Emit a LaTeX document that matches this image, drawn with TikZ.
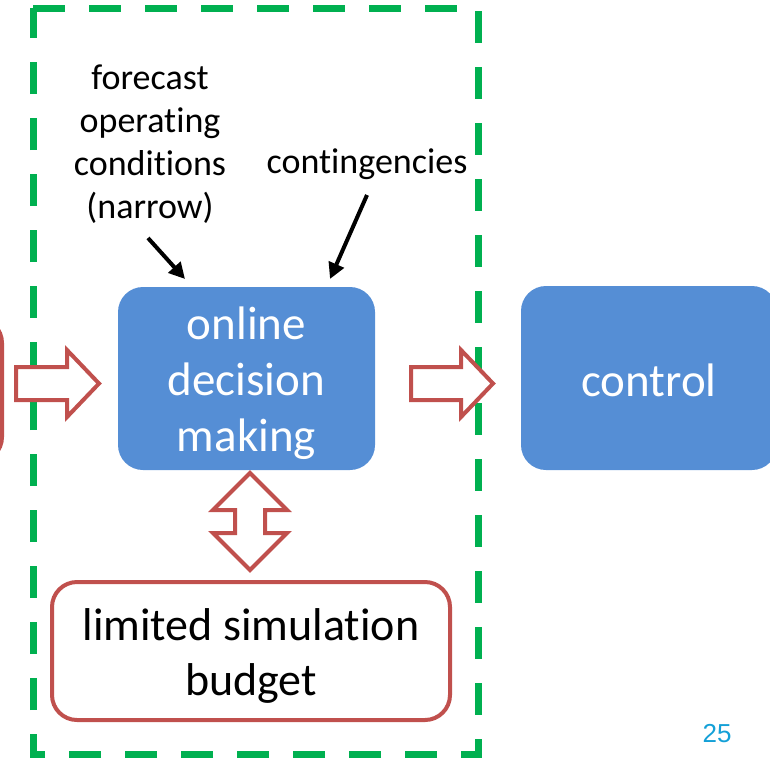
\documentclass[tikz,border=0pt]{standalone}
\usepackage{fontspec}
\setmainfont{Carlito}[Ligatures=NoCommon]
\newfontfamily\numfont{Liberation Sans}
\usetikzlibrary{arrows.meta}
\definecolor{boxblue}{RGB}{85,142,213}
\definecolor{flowred}{RGB}{192,80,77}
\definecolor{zonegreen}{RGB}{0,176,80}
\definecolor{pagecyan}{RGB}{20,160,215}
\tikzset{
  x=1pt, y=-1pt,
  bluebox/.style={fill=boxblue, rounded corners=25pt, inner sep=0pt},
  bluetext/.style={text=white, align=center, font=\fontsize{47}{56}\selectfont, inner sep=0pt},
  redbox/.style={draw=flowred, line width=4pt, rounded corners=25pt, fill=white, inner sep=0pt},
  redtext/.style={align=center, font=\fontsize{46}{55}\selectfont, inner sep=0pt},
  blockarrow/.style={draw=flowred, line width=4pt, fill=white, line join=miter},
  note/.style={align=center, font=\fontsize{36}{43}\selectfont, inner sep=0pt},
  pointer/.style={line width=4pt, -{Triangle[length=16pt,width=16pt]}},
  zone/.style={draw=zonegreen, line width=7pt, dash pattern=on 32pt off 24pt}
}
\begin{document}
\begin{tikzpicture}
\useasboundingbox (0,0) rectangle (770,758);
\clip (0,0) rectangle (770,758);

% decision-making zone
\draw[zone] (33,8) -- (478,8) -- (478,754) -- (33,754) -- cycle;

% boxes
\node[redbox, minimum width=220pt, minimum height=144pt] (source) at (-108,390) {};
\node[bluebox, minimum width=257pt, minimum height=183pt] (odm) at (246.5,378.5) {};
\node[bluetext] (odmtext) at ([yshift=-5pt]odm.center) {online\\decision\\making};
\node[bluebox, minimum width=256pt, minimum height=184pt] (ctrl) at (649,378) {};
\node[bluetext] (ctrltext) at ([yshift=-2pt]ctrl.center) {control};
\node[redbox, minimum width=398pt, minimum height=138pt] (budget) at (251,651) {};
\node[redtext] (budgettext) at ([yshift=-5pt]budget.center) {limited simulation\\budget};

% inputs
\node[note] (fc) at (150,144) {forecast\\operating\\conditions\\(narrow)};
\node[note] (cont) at (367,164) {contingencies};
\coordinate (fcfoot) at (148,238);
\coordinate (contfoot) at (367,195);
\draw[pointer] (fcfoot) -- (185,279);
\draw[pointer] (contfoot) -- (330,279);

% block arrows
\draw[blockarrow] (16,367) -- (67,367) -- (67,350) -- (99,383.5) -- (67,417)
  -- (67,400) -- (16,400) -- cycle;
\draw[blockarrow] (411,367) -- (461,367) -- (461,350) -- (493,383.5) -- (461,417)
  -- (461,400) -- (411,400) -- cycle;
\draw[blockarrow] (250,473) -- (287,510) -- (265,510) -- (265,533) -- (287,533)
  -- (250,570) -- (213,533) -- (235,533) -- (235,510) -- (213,510) -- cycle;

% page number
\node[text=pagecyan, font=\numfont\fontsize{26}{30}\selectfont, inner sep=0pt]
  (pg) at (717,734) {25};
\end{tikzpicture}
\end{document}
